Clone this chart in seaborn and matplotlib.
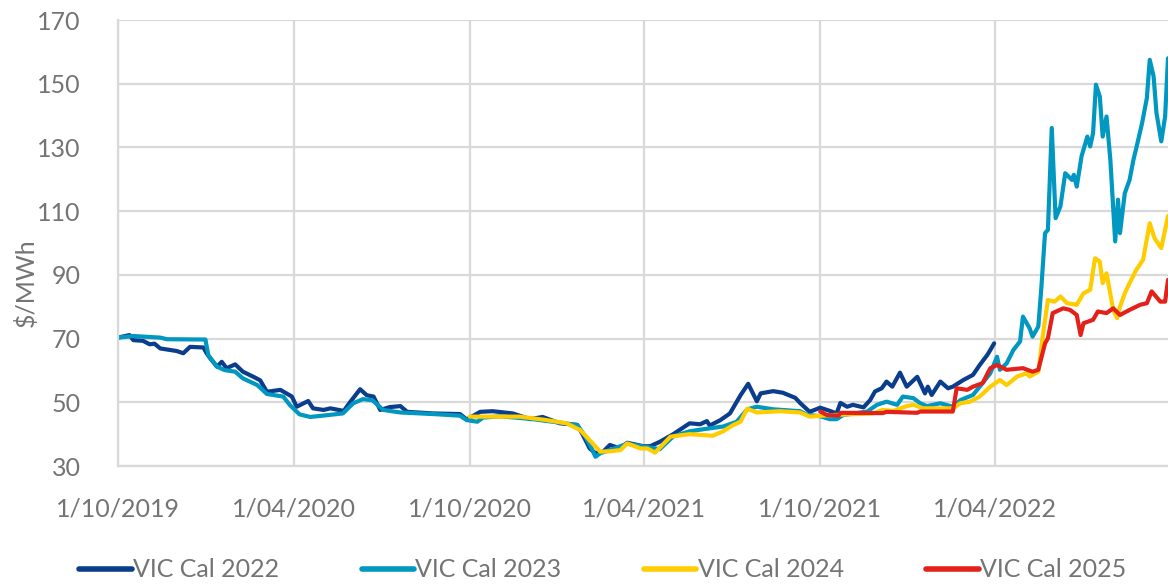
import matplotlib
matplotlib.use("Agg")
import matplotlib.pyplot as plt
import seaborn as sns
import pandas as pd
import numpy as np

# ---------------- data ----------------
START = "2019-10-01"
series_names = ["VIC Cal 2022", "VIC Cal 2023", "VIC Cal 2024", "VIC Cal 2025"]
series_colors = ["#0a3d8c", "#0098c0", "#ffcc00", "#e3211b"]

# day offsets from START and $/MWh values
cal22_days = [0, 12, 16, 26, 33, 38, 44, 61, 68, 75, 89, 92, 96, 103, 108, 113, 122, 130, 141, 148,
              155, 169, 181, 186, 198, 203, 214, 221, 235, 242, 252, 259, 266, 273, 283, 294, 301, 328, 356, 363,
              377, 390, 411, 429, 442, 460, 478, 484, 491, 497, 505, 512, 523, 530, 547, 554, 564, 578, 595, 606,
              613, 616, 627, 637, 648, 656, 665, 669, 682, 692, 705, 710, 720, 731, 741, 748, 752, 759, 765, 776,
              783, 788, 795, 800, 806, 814, 821, 832, 840, 843, 847, 856, 864, 869, 880, 890, 897, 905, 908, 912]
cal22_vals = [70.3, 71.1, 69.5, 69.3, 68.2, 68.4, 66.9, 66.1, 65.4, 67.4, 67.2, 65.5, 63.8, 61.2, 62.7, 60.7, 61.9, 59.6, 58.0, 56.9,
              53.3, 53.9, 51.8, 48.6, 50.4, 48.1, 47.6, 48.1, 47.3, 50.2, 54.1, 52.2, 51.8, 47.6, 48.5, 48.8, 47.0, 46.5, 46.3, 44.6,
              47.0, 47.2, 46.5, 44.7, 45.4, 43.4, 42.9, 39.7, 35.5, 34.0, 34.5, 36.6, 35.5, 37.3, 36.2, 36.2, 37.6, 40.0, 43.4, 43.1,
              44.1, 42.7, 44.4, 46.5, 52.2, 55.8, 50.3, 52.8, 53.5, 53.0, 51.4, 49.8, 47.0, 48.3, 47.3, 46.5, 49.8, 48.6, 49.2, 48.4,
              50.7, 53.4, 54.4, 56.5, 54.9, 59.3, 54.9, 58.0, 52.8, 54.9, 52.3, 56.5, 54.4, 54.9, 57.0, 58.6, 61.7, 64.9, 66.4, 68.5]

cal23_days = [0, 16, 44, 51, 91, 94, 103, 111, 122, 130, 145, 155, 172, 179, 189, 200, 213, 234, 245, 255,
              265, 276, 294, 328, 356, 363, 374, 380, 398, 429, 460, 478, 486, 493, 497, 502, 512, 530, 547, 564,
              578, 595, 613, 630, 644, 655, 665, 682, 710, 717, 731, 741, 748, 755, 780, 790, 800, 811, 817, 828,
              835, 842, 856, 869, 877, 890, 897, 908, 915, 918, 925, 932, 939, 942, 949, 952, 958, 961, 965, 968,
              972, 976, 981, 986, 993, 995, 998, 1003, 1009, 1012, 1015, 1018, 1022, 1025, 1029, 1033, 1038, 1041, 1043, 1048,
              1053, 1057, 1060, 1066, 1071, 1074, 1078, 1081, 1086, 1090, 1093]
cal23_vals = [70.3, 70.8, 70.3, 69.8, 69.7, 64.8, 61.2, 60.1, 59.6, 57.5, 55.4, 52.6, 51.8, 49.1, 46.2, 45.4, 45.8, 46.5, 49.7, 51.0,
              50.6, 47.6, 46.8, 46.3, 45.8, 44.4, 43.9, 45.2, 45.6, 44.8, 43.6, 42.9, 39.5, 35.5, 32.9, 34.0, 35.0, 37.0, 36.1, 35.3,
              39.3, 40.9, 41.7, 42.4, 43.9, 47.8, 48.6, 47.8, 47.2, 46.1, 45.6, 44.7, 44.7, 46.0, 47.1, 49.2, 50.2, 49.2, 51.8, 51.3,
              49.7, 48.8, 49.7, 48.6, 50.7, 52.3, 54.9, 59.1, 64.3, 60.2, 62.2, 66.4, 69.1, 76.9, 73.2, 70.6, 73.8, 85.3, 103.1, 104.1,
              136.1, 107.8, 111.5, 121.9, 119.8, 121.4, 117.7, 127.2, 133.4, 130.3, 134.5, 149.7, 146.0, 133.4, 139.7, 126.1, 100.5, 113.6, 103.1, 115.6,
              119.8, 126.1, 129.8, 137.6, 145.5, 157.5, 152.3, 140.8, 131.9, 139.7, 158.0]

cal24_days = [366, 418, 444, 467, 481, 494, 502, 512, 523, 530, 544, 551, 559, 575, 595, 619, 630, 640, 648, 655,
              665, 689, 710, 720, 738, 752, 786, 796, 807, 821, 828, 838, 869, 877, 887, 897, 908, 918, 925, 936,
              946, 949, 958, 963, 968, 975, 981, 988, 998, 1005, 1012, 1017, 1022, 1025, 1029, 1036, 1040, 1043, 1048, 1053,
              1060, 1067, 1074, 1079, 1086, 1093]
cal24_vals = [45.5, 45.5, 44.5, 43.4, 41.3, 37.1, 34.5, 34.6, 35.0, 37.1, 35.5, 35.5, 34.2, 39.2, 40.0, 39.5, 40.9, 42.8, 43.9, 48.0,
              46.8, 47.2, 46.8, 45.5, 45.9, 46.1, 46.5, 47.6, 47.3, 48.8, 49.2, 48.1, 48.1, 49.7, 50.2, 51.8, 54.9, 57.0, 55.4, 58.1,
              59.1, 58.1, 59.6, 71.7, 82.1, 81.6, 83.2, 81.1, 80.6, 84.2, 85.3, 95.2, 94.2, 87.4, 90.5, 79.0, 76.4, 80.0, 84.2, 87.4,
              91.6, 94.7, 106.2, 101.5, 98.4, 108.5]

cal25_days = [731, 738, 750, 752, 796, 800, 832, 835, 869, 873, 884, 890, 900, 908, 915, 925, 942, 952, 958, 965,
              968, 973, 984, 991, 998, 1002, 1005, 1015, 1020, 1029, 1036, 1043, 1053, 1064, 1071, 1076, 1085, 1090, 1093]
cal25_vals = [47.1, 46.0, 45.8, 46.7, 46.6, 47.0, 46.7, 47.1, 47.1, 54.4, 53.9, 54.9, 56.0, 60.7, 61.7, 60.2, 60.7, 59.6, 60.2, 68.5,
              70.1, 78.0, 79.5, 79.0, 77.4, 71.1, 74.8, 75.9, 78.5, 78.0, 79.5, 77.4, 79.0, 80.6, 81.1, 84.8, 81.6, 81.6, 88.4]

x_tick_dates = ["2019-10-01", "2020-04-01", "2020-10-01", "2021-04-01", "2021-10-01", "2022-04-01"]
x_tick_labels = ["1/10/2019", "1/04/2020", "1/10/2020", "1/04/2021", "1/10/2021", "1/04/2022"]
y_ticks = [30, 50, 70, 90, 110, 130, 150, 170]
x_end = "2022-09-28"
y_label = "$/MWh"

# ---------------- build frame ----------------
frames = []
for name, d, v in zip(series_names,
                      [cal22_days, cal23_days, cal24_days, cal25_days],
                      [cal22_vals, cal23_vals, cal24_vals, cal25_vals]):
    frames.append(pd.DataFrame({
        "date": pd.Timestamp(START) + pd.to_timedelta(d, unit="D"),
        "price": v,
        "series": name,
    }))
df = pd.concat(frames, ignore_index=True)

# ---------------- style ----------------
sns.set_theme(style="white")
plt.rcParams["font.family"] = ["Lato", "DejaVu Sans"]
TEXT = "#747474"
GRID = "#d9d9d9"
FS = 18

fig = plt.figure(figsize=(11.68, 5.85), dpi=100)
ax = fig.add_axes([118 / 1168, 1 - 466 / 585, 1 - 118 / 1168, (466 - 20) / 585])

sns.lineplot(data=df, x="date", y="price", hue="series", hue_order=series_names,
             palette=series_colors, linewidth=3.0, estimator=None, sort=True, ax=ax)

ax.set_xlim(pd.Timestamp(START), pd.Timestamp(x_end))
ax.set_ylim(30, 170)
ax.set_yticks(y_ticks)
ax.set_xticks(pd.to_datetime(x_tick_dates))
ax.set_xticklabels(x_tick_labels)

ax.grid(True, color=GRID, linewidth=1.6)
ax.set_axisbelow(True)
for s in ["top", "right"]:
    ax.spines[s].set_visible(False)
for s in ["left", "bottom"]:
    ax.spines[s].set_color(GRID)
    ax.spines[s].set_linewidth(1.6)

ax.tick_params(axis="both", length=0, labelsize=FS, labelcolor=TEXT)
ax.tick_params(axis="y", pad=27)
ax.tick_params(axis="x", pad=23)

ax.set_xlabel("")
ax.set_ylabel(y_label, fontsize=FS, color=TEXT)
ax.yaxis.set_label_coords(-0.076, 0.41)

handles, labels = ax.get_legend_handles_labels()
ax.get_legend().remove()
for h in handles:
    h.set_linewidth(4)
leg = fig.legend(handles, labels, loc="center", bbox_to_anchor=(0.516, 0.026), ncol=4,
                 frameon=False, fontsize=FS, handlelength=2.1, handletextpad=0.05,
                 columnspacing=3.3)
for t in leg.get_texts():
    t.set_color(TEXT)

fig.savefig("out.png", dpi=100)
